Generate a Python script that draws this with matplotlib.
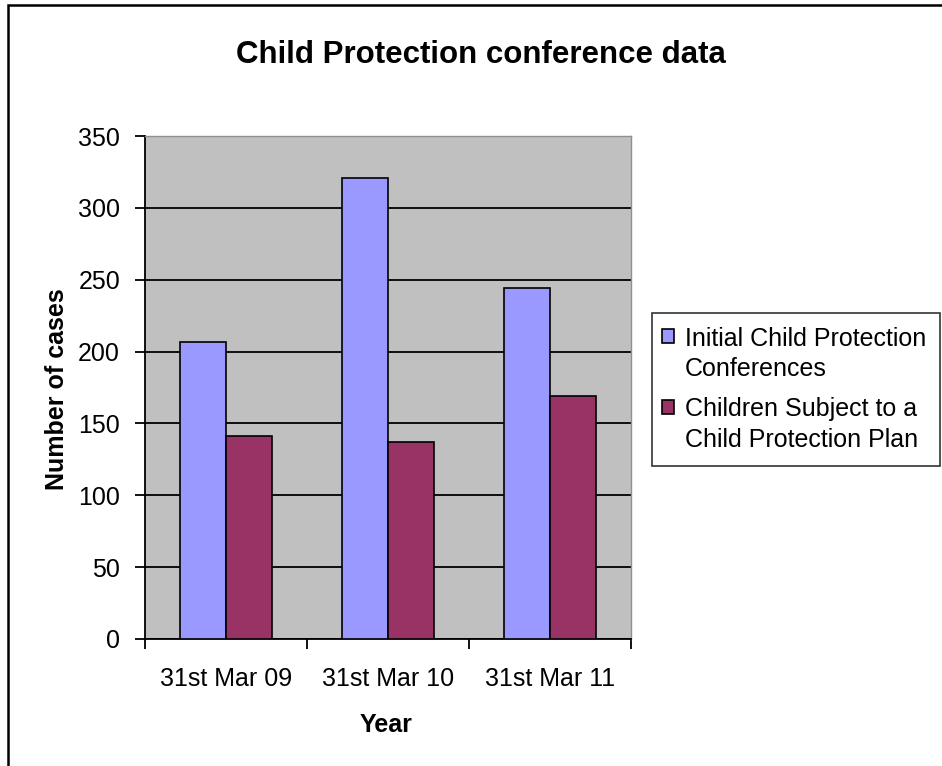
import numpy as np
import matplotlib.pyplot as plt
from matplotlib.patches import Rectangle
from matplotlib.legend_handler import HandlerPatch

plt.rcParams['font.family'] = ['Liberation Sans', 'DejaVu Sans']

years = ['31st Mar 09', '31st Mar 10', '31st Mar 11']
initial_conf = [207, 321, 244]
subject_plan = [141, 137, 169]
series_names = ['Initial Child Protection\nConferences',
                'Children Subject to a\nChild Protection Plan']
colors = ['#9999FF', '#993366']

fig = plt.figure(figsize=(9.42, 7.66), dpi=100)
fig.patch.set_facecolor('white')

# outer chart frame (right and bottom edges fall outside the image)
fig.patches.append(Rectangle((8/942, -10/766), 950/942, 771/766, transform=fig.transFigure,
                             fill=False, edgecolor='black', linewidth=1.8))

ax = fig.add_axes([145/942, 127/766, 486/942, 503/766])
ax.set_facecolor('#C0C0C0')

x = np.arange(len(years))
w = 0.283
b1 = ax.bar(x - w/2, initial_conf, w, color=colors[0], edgecolor='black', linewidth=1.2,
            zorder=3)
b2 = ax.bar(x + w/2, subject_plan, w, color=colors[1], edgecolor='black', linewidth=1.2,
            zorder=3)

ax.set_xlim(-0.5, 2.5)
ax.set_ylim(0, 350)
ax.set_yticks(range(0, 351, 50))
ax.yaxis.grid(True, color='black', linewidth=1.3, zorder=1)
ax.set_axisbelow(True)

ax.set_xticks(x)
ax.set_xticklabels(years)
ax.set_xticks([-0.5, 0.5, 1.5, 2.5], minor=True)
ax.tick_params(axis='x', which='major', length=0, pad=20, labelsize=18)
ax.tick_params(axis='x', which='minor', length=7, width=1.3, direction='out')
ax.tick_params(axis='y', length=7, width=1.3, direction='out', labelsize=18, pad=11)

for s in ['left', 'bottom']:
    ax.spines[s].set_color('black')
    ax.spines[s].set_linewidth(1.3)
for s in ['top', 'right']:
    ax.spines[s].set_color('#909090')
    ax.spines[s].set_linewidth(1.0)

fig.text(386.5/942, 1 - 725/766, 'Year', ha='center', va='center',
         fontsize=18, fontweight='bold')
fig.text(57/942, 1 - 389.5/766, 'Number of cases', ha='center', va='center',
         rotation=90, fontsize=18, fontweight='bold')

fig.text(481/942, 1 - 55/766, 'Child Protection conference data', ha='center', va='center',
         fontsize=22.5, fontweight='bold')


# legend square sits next to the first line of each two-line label
def top_square(legend, orig_handle, xdescent, ydescent, width, height, fontsize):
    return Rectangle((-xdescent - 2.9, -ydescent + 0.74 * fontsize), width, height)


leg = fig.legend(handles=[b1.patches[0], b2.patches[0]], labels=series_names,
                 loc='upper left', bbox_to_anchor=(652/942, 1 - 313/766),
                 fontsize=18, frameon=True, fancybox=False, edgecolor='black',
                 handlelength=0.48, handleheight=0.48, handletextpad=0.29,
                 borderpad=0.55, labelspacing=0.64, borderaxespad=0,
                 handler_map={Rectangle: HandlerPatch(patch_func=top_square)})
leg.get_frame().set_linewidth(1.2)
for t in leg.get_texts():
    t.set_linespacing(1.35)

fig.savefig('out.png', dpi=100)
